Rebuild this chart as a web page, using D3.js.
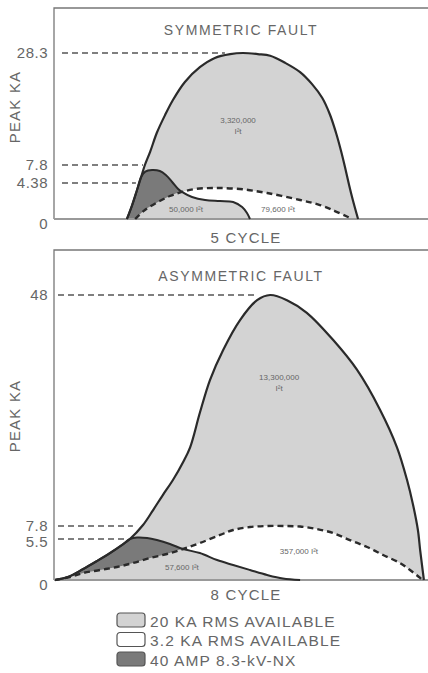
<!DOCTYPE html>
<html>
<head>
<meta charset="utf-8">
<script src="https://cdn.jsdelivr.net/npm/d3@7"></script>
<style>
  body { margin: 0; background: #fff; }
  text { font-family: "Liberation Sans", Arial, sans-serif; fill: #666; }
</style>
</head>
<body>
<svg width="428" height="673"></svg>
<script>
// values: [time (arbitrary units), peak kA]
const symAvail = [[19.5,0],[20.9,1.7],[22.2,3.53],[23.3,5.52],[24.3,7.8],[25.7,10.2],[27.5,13.7],[29.7,16.95],[31.8,19.7],
  [35.0,23.0],[39.0,25.7],[43.0,27.4],[47.1,28.1],[50.5,28.3],[54.5,28.1],[57.8,27.8],[61.8,26.5],[65.8,24.8],
  [69.0,22.6],[71.7,20.1],[73.8,17.0],[75.4,13.7],[76.7,10.5],[77.8,7.42],[78.9,4.14],[79.9,2.31],[81.3,0]];
const symLow = [[21.7,0],[24.3,1.1],[27.8,2.07],[31.0,2.8],[34.2,3.29],[37.7,3.65],[43.0,3.77],[49.7,3.65],
  [57.0,3.16],[65.8,2.31],[71.1,1.7],[75.1,0.97],[78.6,0.24],[79.7,0]];
const symFuse = [[19.5,0],[20.9,1.7],[22.2,3.53],[23.3,5.52],[24.4,6.55],[26.2,6.85],[28.3,6.66],[29.9,5.9],
  [31.6,4.57],[33.2,3.65],[34.2,3.29]];
const symFuseTail = [[34.2,3.29],[36.9,2.68],[40.4,2.31],[44.4,2.19],[47.9,2.07],[50.3,1.46],[51.6,0.73],[52.4,0]];

const asymAvail = [[0.3,0],[3.7,0.4],[7.8,1.47],[11.5,2.55],[15.0,3.62],[18.2,4.7],[20.3,5.5],[23.8,7.97],
  [26.5,10.58],[29.1,13.19],[31.8,15.8],[34.5,18.9],[36.4,21.5],[39.0,27.5],[41.7,33.2],[45.2,38.4],[49.7,43.6],
  [54.3,47.1],[57.8,48],[62.3,47.1],[67.6,44.9],[74.6,40.2],[81.0,35.0],[87.2,28.0],[91.7,21.5],[94.4,15.8],
  [96.0,11.5],[97.3,7.09],[97.9,4.02],[98.4,2.01],[98.9,0]];
const asymLow = [[0.3,0],[4.3,0.4],[7.8,0.94],[12.3,1.34],[16.8,1.74],[21.1,2.28],[25.7,2.95],[30.2,3.49],
  [34.5,4.16],[39.0,4.96],[44.4,6.21],[47.9,7.09],[52.4,7.62],[56.9,7.8],[61.2,7.8],[65.8,7.7],[70.3,7.27],
  [74.6,6.56],[79.1,5.36],[83.7,4.43],[88.0,3.35],[92.5,2.28],[95.2,1.34],[97.9,0.27],[98.4,0]];
const asymFuse = [[0.3,0],[3.7,0.4],[7.8,1.47],[11.5,2.55],[15.0,3.62],[18.2,4.7],[20.3,5.5],[22.2,5.77],
  [24.9,5.68],[27.5,5.36],[31.0,4.83],[34.5,4.16]];
const asymFuseTail = [[34.5,4.16],[39.0,3.62],[43.6,2.68],[47.9,2.01],[52.4,1.34],[57.0,0.67],[61.2,0.2],[65.8,0]];

const symTicks = [0, 4.38, 7.8, 28.3];
const asymTicks = [0, 5.5, 7.8, 48];
// reference lines: [value, time where the dashed line stops]
const symRefs = [[28.3,45.7],[7.8,23.8],[4.38,21.9]];
const asymRefs = [[48,54.3],[7.8,21.1],[5.5,19.8]];
// I²t labels: [time, kA, text lines]
const symLabels = [[49.2,15.5,["3,320,000","I²t"]],[35.3,0.8,["50,000 I²t"]],[59.9,0.8,["79,600 I²t"]]];
const asymLabels = [[60.2,33.2,["13,300,000","I²t"]],[65.5,3.5,["357,000 I²t"]],[34.2,1.3,["57,600 I²t"]]];

const legendNames = ["20 KA RMS AVAILABLE", "3.2 KA RMS AVAILABLE", "40 AMP 8.3-kV-NX"];
const legendFills = ["#d3d3d3", "#ffffff", "#7a7a7a"];

const svg = d3.select("svg");
const x = d3.scaleLinear().domain([0, 100]).range([54, 428]);
const curve = d3.curveCatmullRom.alpha(0.5);

function panel(opt) {
  const y = d3.scaleLinear().domain(opt.ticks).range(opt.range);
  const g = svg.append("g");
  const area = d3.area().x(d => x(d[0])).y0(y(0)).y1(d => y(d[1])).curve(curve);
  const line = d3.line().x(d => x(d[0])).y(d => y(d[1])).curve(curve);
  const meet = opt.fuseTail[0][0];
  const fuseLow = opt.low.filter(d => d[0] < meet).concat(opt.fuseTail);

  // frame
  g.append("path")
    .attr("d", `M${x(0)},${y(0)}V${opt.top}H428`)
    .attr("fill", "none").attr("stroke", "#777").attr("stroke-width", 1.3);

  g.append("path").attr("d", area(opt.avail)).attr("fill", legendFills[0]);
  g.append("path").attr("d", area(opt.low)).attr("fill", legendFills[1]);
  g.append("path").attr("d", area(opt.fuse)).attr("fill", legendFills[2]);
  g.append("path").attr("d", area(fuseLow)).attr("fill", legendFills[0]);

  // baseline
  g.append("line")
    .attr("x1", x(0)).attr("x2", 428).attr("y1", y(0)).attr("y2", y(0))
    .attr("stroke", "#999").attr("stroke-width", 2.2);

  g.selectAll("line.ref").data(opt.refs).join("line")
    .attr("class", "ref")
    .attr("x1", opt.refStart).attr("x2", d => x(d[1]))
    .attr("y1", d => y(d[0])).attr("y2", d => y(d[0]))
    .attr("stroke", "#555").attr("stroke-width", 1.3).attr("stroke-dasharray", "6,4");

  g.append("path").attr("d", line(opt.avail))
    .attr("fill", "none").attr("stroke", "#2a2a2a").attr("stroke-width", 2.2);
  g.append("path").attr("d", line(opt.fuse.concat(opt.fuseTail.slice(1))))
    .attr("fill", "none").attr("stroke", "#2a2a2a").attr("stroke-width", 2);
  g.append("path").attr("d", line(opt.low))
    .attr("fill", "none").attr("stroke", "#2a2a2a").attr("stroke-width", 2.4)
    .attr("stroke-dasharray", "6,4");

  const axis = g.append("g")
    .attr("transform", `translate(${x(0) - 4},0)`)
    .call(d3.axisLeft(y).tickValues(opt.ticks).tickSize(0).tickPadding(2).tickFormat(d => d));
  axis.select(".domain").remove();
  axis.selectAll("text")
    .style("font-family", '"Liberation Sans", Arial, sans-serif')
    .style("font-size", "15px").attr("fill", "#888").style("letter-spacing", "0.5px")
    .attr("dy", d => d === 0 ? "0.6em" : (d === 5.5 ? "0.52em" : "0.32em"));

  g.selectAll("text.lab").data(opt.labels).join("text")
    .attr("class", "lab")
    .attr("x", d => x(d[0])).attr("y", d => y(d[1]))
    .attr("text-anchor", "middle").style("font-size", "8px").attr("fill", "#777")
    .selectAll("tspan").data(d => d[2].map(t => [x(d[0]), t])).join("tspan")
    .attr("x", d => d[0]).attr("dy", (d, i) => i ? 11 : 0).text(d => d[1]);

  g.append("text")
    .attr("x", 241).attr("y", opt.titleY).attr("text-anchor", "middle")
    .style("font-size", "14px").style("letter-spacing", "1.6px").attr("fill", "#777").text(opt.title);
  g.append("text")
    .attr("x", 246).attr("y", opt.cycleY).attr("text-anchor", "middle")
    .style("font-size", "15px").style("letter-spacing", "1.2px").attr("fill", "#777").text(opt.cycle);
  g.append("text")
    .attr("transform", `translate(20,${opt.labelY}) rotate(-90)`).attr("text-anchor", "middle")
    .style("font-size", "15px").style("letter-spacing", "1.2px").attr("fill", "#888").text("PEAK KA");
}

panel({ avail: symAvail, low: symLow, fuse: symFuse, fuseTail: symFuseTail,
  ticks: symTicks, range: [219, 183, 165, 53], top: 8, refs: symRefs, refStart: 62,
  labels: symLabels, title: "SYMMETRIC FAULT", titleY: 35, cycle: "5 CYCLE", cycleY: 243, labelY: 107 });

panel({ avail: asymAvail, low: asymLow, fuse: asymFuse, fuseTail: asymFuseTail,
  ticks: asymTicks, range: [580, 539, 526, 295], top: 250, refs: asymRefs, refStart: 58,
  labels: asymLabels, title: "ASYMMETRIC FAULT", titleY: 281, cycle: "8 CYCLE", cycleY: 600, labelY: 416 });

const legend = svg.append("g").attr("transform", "translate(117,613)");
const rows = legend.selectAll("g").data(legendNames).join("g")
  .attr("transform", (d, i) => `translate(0,${i * 19.5})`);
rows.append("rect")
  .attr("width", 28).attr("height", 14).attr("rx", 3)
  .attr("fill", (d, i) => legendFills[i]).attr("stroke", "#555").attr("stroke-width", 1.2);
rows.append("text")
  .attr("x", 33).attr("y", 13.5)
  .style("font-size", "15.5px").style("letter-spacing", "1.1px").text(d => d);
</script>
</body>
</html>
